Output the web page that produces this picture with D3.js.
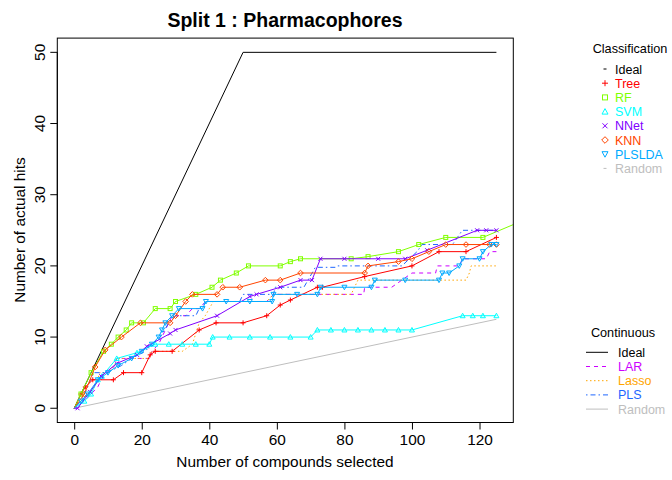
<!DOCTYPE html>
<html lang="en">
  <head>
    <meta charset="UTF-8" />
    <title>Split 1 : Pharmacophores</title>
    <style>
      body { margin: 0; background: #fff; }
      svg { font-family: "Liberation Sans", Arial, sans-serif; }
    </style>
  </head>
  <body>
    <svg width="672" height="480"></svg>
    <script src="https://d3js.org/d3.v7.min.js"></script>
    <script>
      // hits found vs compounds selected
      const ideal = [[0, 0], [50, 50], [125, 50]];
      const random = [[0, 0], [125, 12.5]];
      const tree = [[0, 0], [2, 2], [3.3, 3], [5.5, 4], [11.6, 4], [14.6, 5], [20, 5], [22.5, 7.5], [24, 8], [29, 8],
        [37, 11], [42, 12], [50, 12], [57, 13], [61, 14.5], [64, 15.2], [72, 17], [73.5, 17], [86, 18.5], [100, 20],
        [108, 22], [116, 22], [125, 24]];
      const rf = [[0, 0], [2, 2], [5, 5], [8.7, 8], [11, 9], [13, 10], [15.4, 11], [17, 12], [20.5, 12], [24, 14], [28.4, 14],
        [30, 15], [36, 16], [40.8, 17], [43.3, 18], [48, 19], [51.6, 20], [61, 20], [64, 20.6], [67, 21], [82, 21],
        [87, 21.3], [96, 22], [102, 23], [110, 24], [121, 24], [131, 26]];
      const svm = [[0, 0], [3, 1], [5, 2], [7, 4], [8.2, 4.5], [12.6, 7], [18.6, 7.8], [24, 9], [28, 9], [32, 9], [36, 9], [40, 9],
        [41, 10], [46, 10], [52, 10], [58, 10], [64, 10], [70, 10], [72, 11], [76, 11], [80, 11], [84, 11], [88, 11], [92, 11],
        [96, 11], [100, 11], [115, 13], [118, 13], [121, 13], [125, 13]];
      const nnet = [[0, 0], [1, 0], [4.7, 2.3], [8, 4.5], [12.6, 6.3], [18.6, 7.5], [21.5, 8.7], [28.4, 10.5], [30, 11],
        [42.3, 13], [52, 15.7], [54, 16], [61, 17], [67, 18], [70.4, 18], [72.9, 21], [80, 21], [90, 21], [98, 21],
        [104.5, 22.2], [119.3, 25], [122, 25], [125, 25]];
      const knn = [[0, 0], [3, 2], [6.2, 5.8], [9.2, 8.2], [14, 10], [19.6, 12], [28.4, 12], [30, 13], [33, 15], [35, 16],
        [42.3, 16], [44, 17], [49, 17], [56.6, 18], [61, 18], [67, 19], [86, 19], [87, 20], [96, 20.6], [100, 21],
        [105, 22], [110, 23], [116, 23], [123, 23], [125, 23]];
      const plslda = [[0, 0], [2, 1], [4, 2], [7, 4], [10, 5], [13, 6], [17, 7], [20, 8], [23, 9], [25, 10], [26, 11], [27, 12],
        [29, 13], [31, 14], [38, 14], [39, 15], [45, 15], [52, 15], [58.6, 15], [59, 16], [66, 16], [72, 16], [73, 17],
        [80, 17], [88, 17], [89, 18], [98, 18], [108, 18], [109, 19], [111, 19], [114, 20], [115, 21], [120, 21],
        [121, 22], [123.5, 23], [125, 23]];
      const lar = [[0, 0], [1, 0.5], [3, 1], [5, 2], [7, 3], [8, 4], [10, 5], [12, 6], [12.6, 7], [22.5, 7], [23, 8], [25, 9],
        [26, 10], [27, 11], [28, 12], [29, 13], [33, 13], [35, 14], [37, 14], [39, 15], [57, 15], [59, 16], [85.7, 16],
        [86, 17], [94, 17], [100, 19], [107, 19], [107.5, 20], [114, 20], [115, 21], [122, 21], [123, 22], [125, 22]];
      const lasso = [[0, 0], [2, 1], [4, 2], [6, 3], [7, 4], [7.5, 5], [10, 5], [12, 6], [12.6, 7], [22, 7], [23, 8], [32, 8],
        [35, 9], [37, 12], [38.8, 13], [40, 14], [41.2, 15], [57, 15], [59, 16], [82, 16], [84, 18], [116, 18], [117, 19],
        [117.5, 20], [125, 20]];
      const pls = [[0, 0], [2, 1], [4, 3], [5.7, 5], [9.7, 5], [14, 6], [17, 7], [21, 8], [23, 9], [25.5, 10], [28, 12],
        [30, 13], [36, 13], [37, 14], [39, 15], [49, 15], [50, 16], [59, 16], [59.5, 17], [68, 17], [71.4, 19.8],
        [77.5, 19.8], [78, 20], [97, 20], [101.5, 22], [103, 23], [112, 23], [114.9, 25], [125, 25]];

      const xTicks = [0, 20, 40, 60, 80, 100, 120];
      const yTicks = [0, 10, 20, 30, 40, 50];

      const classSeries = [
        { name: "Tree", data: tree, color: "#ff0000", sym: "plus" },
        { name: "RF", data: rf, color: "#80ff00", sym: "square" },
        { name: "SVM", data: svm, color: "#00ffff", sym: "tri" },
        { name: "NNet", data: nnet, color: "#8000ff", sym: "cross" },
        { name: "KNN", data: knn, color: "#ff4500", sym: "diamond" },
        { name: "PLSLDA", data: plslda, color: "#00aaff", sym: "dtri" }
      ];
      const contSeries = [
        { name: "LAR", data: lar, color: "#cc00ff", dash: "4,4" },
        { name: "Lasso", data: lasso, color: "#ffa500", dash: "1.5,2.5" },
        { name: "PLS", data: pls, color: "#1e66ff", dash: "1.5,3,5,3" }
      ];

      const svg = d3.select("svg");
      const x = d3.scaleLinear().domain([-5, 130]).range([57.3, 513.3]);
      const y = d3.scaleLinear().domain([-2, 52]).range([422.5, 38.1]);

      svg.append("clipPath").attr("id", "plot")
        .append("rect").attr("x", 57.3).attr("y", 38.1).attr("width", 456).attr("height", 384.4);

      const line = d3.line().x((d) => x(d[0])).y((d) => y(d[1]));
      const g = svg.append("g").attr("clip-path", "url(#plot)");

      g.append("path").attr("d", line(random)).attr("fill", "none").attr("stroke", "#bebebe");
      g.append("path").attr("d", line(ideal)).attr("fill", "none").attr("stroke", "#000");

      contSeries.forEach((s) => {
        g.append("path").attr("d", line(s.data)).attr("fill", "none")
          .attr("stroke", s.color).attr("stroke-dasharray", s.dash);
      });

      function symbol(sel, sym, color, r) {
        if (sym === "plus") {
          sel.append("path").attr("d", `M${-r - 0.5},0H${r + 0.5}M0,${-r - 0.5}V${r + 0.5}`).attr("stroke", color);
        } else if (sym === "cross") {
          sel.append("path").attr("d", `M${-r},${-r}L${r},${r}M${-r},${r}L${r},${-r}`).attr("stroke", color);
        } else if (sym === "square") {
          sel.append("rect").attr("x", -r).attr("y", -r).attr("width", 2 * r).attr("height", 2 * r)
            .attr("fill", "none").attr("stroke", color);
        } else if (sym === "diamond") {
          sel.append("path").attr("d", `M0,${-r - 0.8}L${r + 0.8},0L0,${r + 0.8}L${-r - 0.8},0Z`)
            .attr("fill", "none").attr("stroke", color);
        } else if (sym === "tri") {
          sel.append("path").attr("d", `M0,${-r - 0.5}L${r + 0.5},${r}L${-r - 0.5},${r}Z`)
            .attr("fill", "none").attr("stroke", color);
        } else if (sym === "dtri") {
          sel.append("path").attr("d", `M0,${r + 0.5}L${r + 0.5},${-r}L${-r - 0.5},${-r}Z`)
            .attr("fill", "none").attr("stroke", color);
        }
      }

      classSeries.forEach((s) => {
        g.append("path").attr("d", line(s.data)).attr("fill", "none").attr("stroke", s.color);
        g.selectAll(null).data(s.data.slice(1)).enter().append("g")
          .attr("transform", (d) => `translate(${x(d[0])},${y(d[1])})`)
          .each(function () { symbol(d3.select(this), s.sym, s.color, 2); });
      });

      // box and axes
      svg.append("rect").attr("x", 57.3).attr("y", 38.1).attr("width", 456).attr("height", 384.4)
        .attr("fill", "none").attr("stroke", "#000");

      const xAxis = svg.append("g").attr("transform", "translate(0,422.5)")
        .call(d3.axisBottom(x).tickValues(xTicks).tickSize(7).tickPadding(5));
      xAxis.select(".domain").attr("d", `M${x(0)},0H${x(120)}`);
      xAxis.selectAll("text").attr("font-size", 15.4).attr("font-family", "Liberation Sans, Arial, sans-serif");

      const yAxis = svg.append("g").attr("transform", "translate(57.3,0)")
        .call(d3.axisLeft(y).tickValues(yTicks).tickSize(7).tickPadding(5));
      yAxis.select(".domain").attr("d", `M0,${y(0)}V${y(50)}`);
      yAxis.selectAll("text").attr("font-size", 15.4).attr("font-family", "Liberation Sans, Arial, sans-serif")
        .attr("text-anchor", "middle").attr("dy", 0)
        .attr("transform", (d) => `translate(-12,${y(d)}) rotate(-90) translate(0,${-y(d)})`)
        .attr("x", 0).attr("y", (d) => y(d));
      yAxis.selectAll(".tick").attr("transform", null);
      yAxis.selectAll(".tick line").attr("y1", (d) => y(d)).attr("y2", (d) => y(d));

      svg.append("text").attr("x", 285).attr("y", 27).attr("text-anchor", "middle")
        .attr("font-size", 19.5).attr("font-weight", "bold").text("Split 1 : Pharmacophores");
      svg.append("text").attr("x", 285).attr("y", 467).attr("text-anchor", "middle")
        .attr("font-size", 15.4).text("Number of compounds selected");
      svg.append("text").attr("transform", "translate(25,230) rotate(-90)").attr("text-anchor", "middle")
        .attr("font-size", 15.4).text("Number of actual hits");

      // legends
      const leg1 = [
        { name: "Ideal", color: "#000", sym: "dash" },
        ...classSeries,
        { name: "Random", color: "#bebebe", sym: "dash" }
      ];
      svg.append("text").attr("x", 630).attr("y", 52.5).attr("text-anchor", "middle")
        .attr("font-size", 12.7).text("Classification");
      leg1.forEach((s, i) => {
        const cy = 69 + i * 14.2;
        const lg = svg.append("g").attr("transform", `translate(605,${cy})`);
        if (s.sym === "dash") {
          lg.append("path").attr("d", "M-1.5,0H1.5").attr("stroke", s.color);
        } else {
          symbol(lg, s.sym, s.color, 2.5);
        }
        svg.append("text").attr("x", 615).attr("y", cy + 4.5).attr("font-size", 12.5)
          .attr("fill", s.color).text(s.name);
      });

      const leg2 = [
        { name: "Ideal", color: "#000", dash: null },
        ...contSeries,
        { name: "Random", color: "#bebebe", dash: null }
      ];
      svg.append("text").attr("x", 623).attr("y", 336.5).attr("text-anchor", "middle")
        .attr("font-size", 12.7).text("Continuous");
      leg2.forEach((s, i) => {
        const cy = 352.3 + i * 14.2;
        svg.append("line").attr("x1", 586).attr("x2", 608).attr("y1", cy).attr("y2", cy)
          .attr("stroke", s.color).attr("stroke-dasharray", s.dash);
        svg.append("text").attr("x", 618).attr("y", cy + 4.5).attr("font-size", 12.5)
          .attr("fill", s.color).text(s.name);
      });
    </script>
  </body>
</html>
